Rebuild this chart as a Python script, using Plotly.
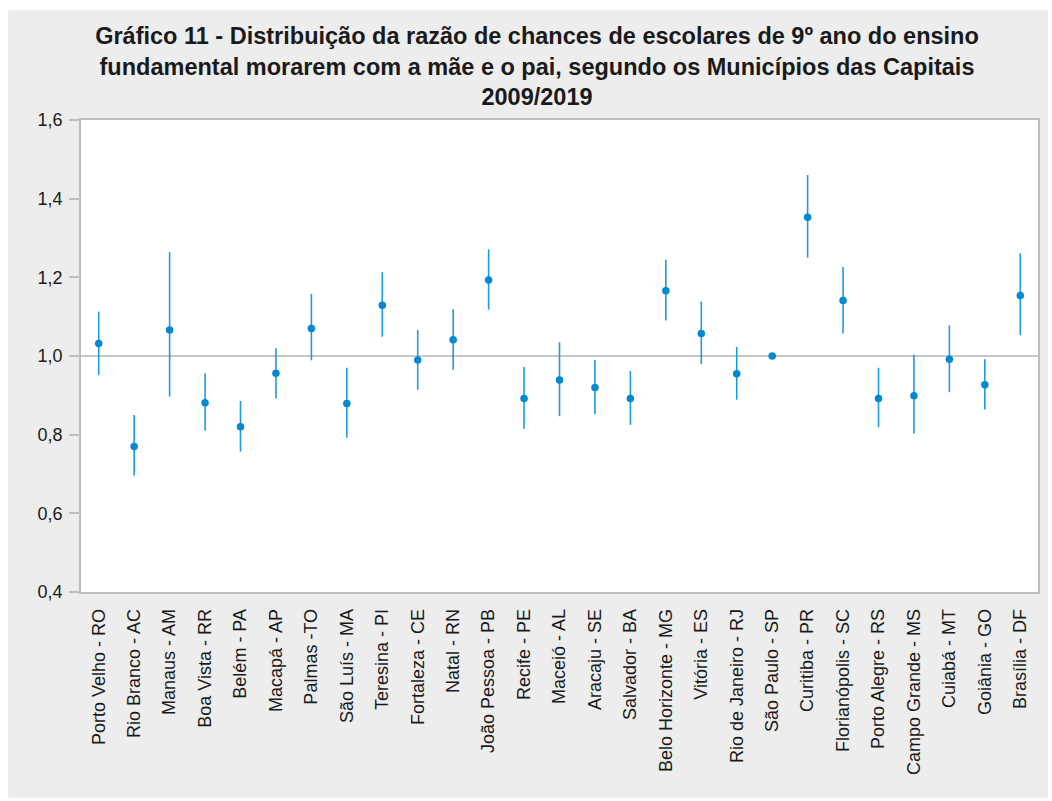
import plotly.graph_objects as go

cities = ["Porto Velho - RO", "Rio Branco - AC", "Manaus - AM", "Boa Vista - RR", "Belém - PA",
          "Macapá - AP", "Palmas -TO", "São Luís - MA", "Teresina - PI", "Fortaleza - CE",
          "Natal - RN", "João Pessoa - PB", "Recife - PE", "Maceió - AL", "Aracaju - SE",
          "Salvador - BA", "Belo Horizonte - MG", "Vitória - ES", "Rio de Janeiro - RJ",
          "São Paulo - SP", "Curitiba - PR", "Florianópolis - SC", "Porto Alegre - RS",
          "Campo Grande - MS", "Cuiabá - MT", "Goiânia - GO", "Brasília - DF"]

odds_ratio = [1.032, 0.770, 1.066, 0.881, 0.820, 0.956, 1.070, 0.879, 1.129, 0.990,
              1.041, 1.193, 0.892, 0.939, 0.920, 0.892, 1.166, 1.057, 0.955, 1.000,
              1.353, 1.141, 0.892, 0.899, 0.992, 0.927, 1.154]
ci_upper = [1.113, 0.850, 1.264, 0.956, 0.886, 1.020, 1.158, 0.970, 1.213, 1.066,
            1.119, 1.271, 0.972, 1.035, 0.990, 0.962, 1.245, 1.138, 1.023, 1.000,
            1.460, 1.226, 0.970, 1.003, 1.078, 0.992, 1.261]
ci_lower = [0.952, 0.696, 0.897, 0.810, 0.757, 0.892, 0.989, 0.792, 1.049, 0.914,
            0.965, 1.118, 0.815, 0.847, 0.852, 0.825, 1.090, 0.979, 0.889, 1.000,
            1.250, 1.058, 0.819, 0.803, 0.908, 0.864, 1.053]

y_ticks = [0.4, 0.6, 0.8, 1.0, 1.2, 1.4, 1.6]
reference_value = 1.0

err_plus = [u - v for u, v in zip(ci_upper, odds_ratio)]
err_minus = [v - l for v, l in zip(odds_ratio, ci_lower)]

fig = go.Figure()
fig.add_trace(go.Scatter(
    x=cities, y=odds_ratio, mode="markers",
    marker=dict(color="#0088d1", size=7.5),
    error_y=dict(type="data", symmetric=False, array=err_plus, arrayminus=err_minus,
                 color="#1e9ae0", thickness=1.6, width=0),
    showlegend=False, hoverinfo="x+y",
))

# plot-frame geometry in pixels (1052x801 page)
W, H = 1052, 801
L, R, T, B = 81, 1040, 120, 592
pw, ph = R - L, B - T

def px(x):
    return (x - L) / pw

def py(y):
    return (B - y) / ph

shapes = [
    dict(type="rect", xref="paper", yref="paper", x0=px(8), x1=px(1050), y0=py(798), y1=py(10),
         fillcolor="#ededed", line=dict(width=0), layer="below"),
    dict(type="rect", xref="paper", yref="paper", x0=0, x1=1, y0=0, y1=1,
         fillcolor="#ffffff", line=dict(width=0), layer="below"),
    dict(type="line", xref="paper", yref="y", x0=0, x1=1, y0=reference_value, y1=reference_value,
         line=dict(color="#b4b4b4", width=1.5), layer="below"),
]

fig.update_layout(
    width=W, height=H,
    margin=dict(l=L, r=W - R, t=T, b=H - B),
    paper_bgcolor="#ffffff", plot_bgcolor="rgba(0,0,0,0)",
    separators=",.",
    font=dict(family="Liberation Sans, Arial, sans-serif", size=18, color="#1a1a1a"),
    title=dict(
        text="<b>Gráfico 11 - Distribuição da razão de chances de escolares de 9º ano do ensino<br>"
             "fundamental morarem com a mãe e o pai, segundo os Municípios das Capitais<br>"
             "2009/2019</b>",
        x=537 / W, xanchor="center", y=1 - 44 / H, yanchor="top",
        font=dict(family="Liberation Sans, Arial, sans-serif", size=23.5, color="#1a1a1a"),
    ),
    shapes=shapes,
    xaxis=dict(
        type="category", range=[-0.5, len(cities) - 0.5], tickangle=-90,
        showgrid=False, zeroline=False, ticks="",
        showline=True, mirror=True, linecolor="#bdbdbd", linewidth=1.5,
        ticklabelstandoff=8, tickfont=dict(size=18),
    ),
    yaxis=dict(
        range=[0.4, 1.6], tickvals=y_ticks, tickformat=".1f",
        showgrid=False, zeroline=False,
        ticks="outside", ticklen=10, tickcolor="#bdbdbd", tickwidth=1.5,
        showline=True, mirror=True, linecolor="#bdbdbd", linewidth=1.5,
        ticklabelstandoff=3, tickfont=dict(size=18),
    ),
)

fig.write_html("out.html")
